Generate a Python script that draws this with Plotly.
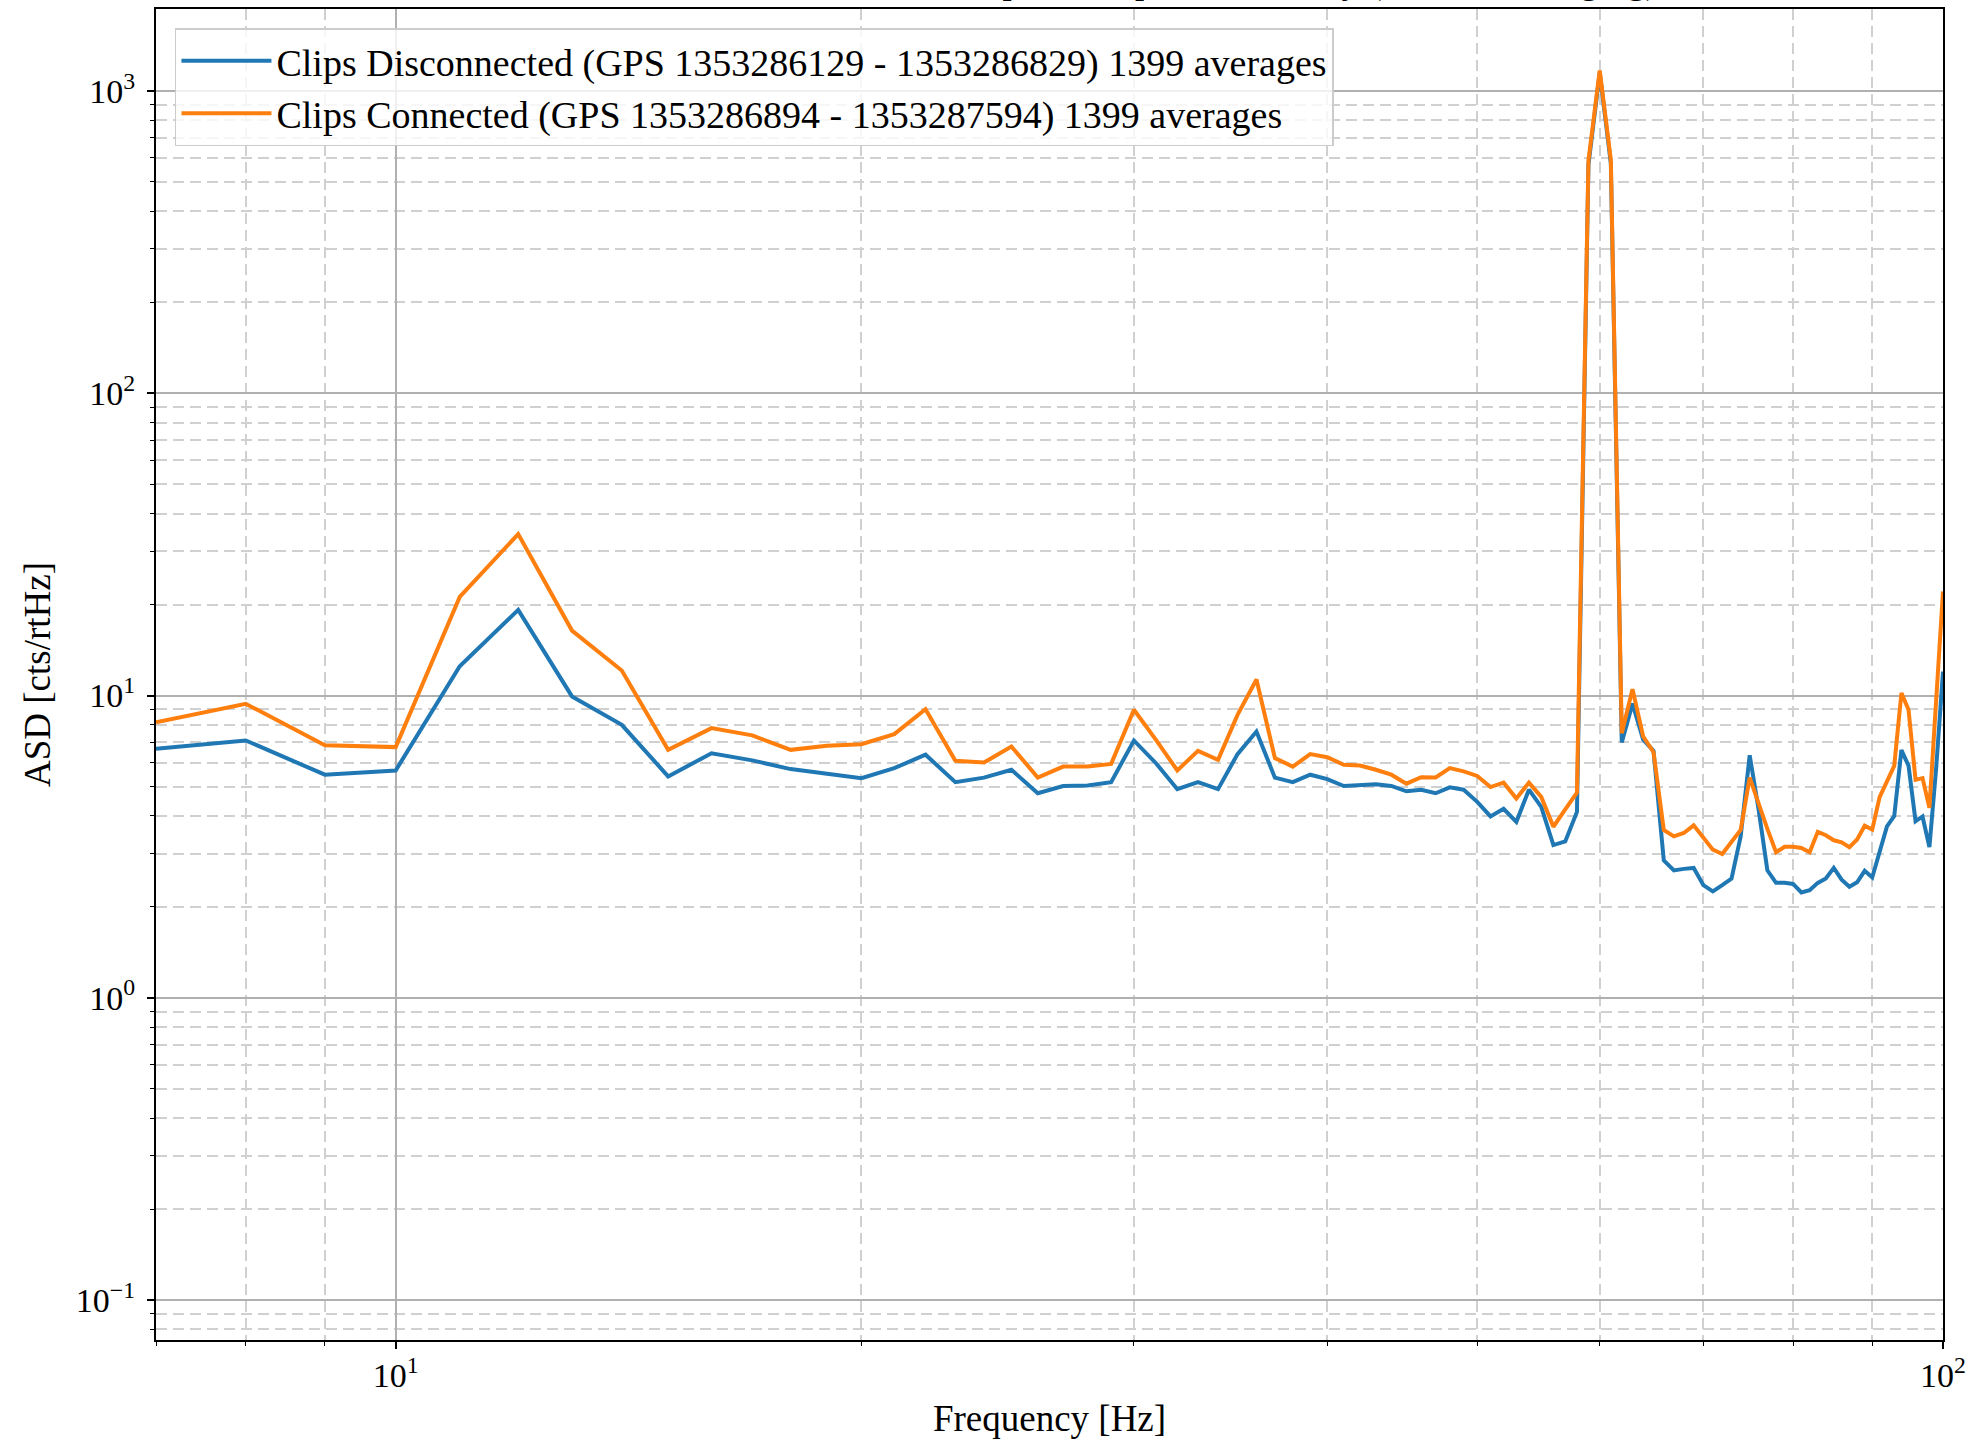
import math
import plotly.graph_objects as go

# ---------------- data ----------------
freq_hz = list(range(7, 101))

asd_disconnected = [
    6.67, 7.10, 5.47, 5.65, 12.5, 19.2, 9.93, 8.00, 5.40, 6.44,   # 7-16
    6.10, 5.71, 5.51, 5.33, 5.75, 6.37, 5.17, 5.35, 5.68, 4.75,   # 17-26
    5.02, 5.04, 5.17, 7.10, 5.97, 4.90, 5.17, 4.90, 6.40, 7.60,   # 27-36
    5.35, 5.17, 5.47, 5.29, 5.02, 5.07, 5.09, 5.02, 4.82, 4.88,   # 37-46
    4.75, 4.97, 4.88, 4.45, 3.98, 4.22, 3.82, 4.88, 4.28, 3.20,   # 47-56
    3.29, 4.12, 570.0, 1150.0, 575.0, 7.00, 9.40, 7.16, 6.56, 2.85,  # 57-66
    2.64, 2.67, 2.69, 2.36, 2.25, 2.36, 2.48, 3.42, 6.34, 4.20,   # 67-76
    2.64, 2.40, 2.40, 2.38, 2.23, 2.27, 2.40, 2.48, 2.69, 2.46,   # 77-86
    2.33, 2.41, 2.63, 2.50, 3.05, 3.69, 3.99, 6.60, 5.86, 3.84,   # 87-96
    3.98, 3.15, 5.80, 12.0,                                       # 97-100
]

asd_connected = [
    8.16, 9.39, 6.85, 6.75, 21.2, 34.2, 16.4, 12.1, 6.61, 7.80,   # 7-16
    7.38, 6.61, 6.82, 6.90, 7.45, 9.01, 6.08, 6.00, 6.78, 5.35,   # 17-26
    5.82, 5.82, 5.94, 8.97, 7.13, 5.65, 6.56, 6.13, 8.63, 11.3,   # 27-36
    6.21, 5.82, 6.40, 6.25, 5.90, 5.87, 5.68, 5.47, 5.11, 5.37,   # 37-46
    5.36, 5.75, 5.61, 5.42, 4.98, 5.15, 4.56, 5.15, 4.62, 3.68,   # 47-56
    4.20, 4.77, 588.0, 1168.0, 591.0, 7.50, 10.5, 7.33, 6.49, 3.59,  # 57-66
    3.42, 3.51, 3.72, 3.37, 3.09, 2.99, 3.26, 3.59, 5.35, 4.36,   # 67-76
    3.62, 3.03, 3.16, 3.16, 3.13, 3.03, 3.54, 3.45, 3.32, 3.27,   # 77-86
    3.15, 3.34, 3.71, 3.60, 4.61, 5.20, 5.85, 10.2, 8.97, 5.26,   # 87-96
    5.33, 4.25, 9.70, 22.1,                                       # 97-100
]

series_names = [
    "Clips Disconnected (GPS 1353286129 - 1353286829) 1399 averages",
    "Clips Connected (GPS 1353286894 - 1353287594) 1399 averages",
]

x_tick_values = [10, 100]
x_tick_labels = ["10<sup>1</sup>", "10<sup>2</sup>"]
y_tick_values = [0.1, 1, 10, 100, 1000]
y_tick_labels = ["10<sup>\u22121</sup>", "10<sup>0</sup>", "10<sup>1</sup>",
                 "10<sup>2</sup>", "10<sup>3</sup>"]

x_title = "Frequency [Hz]"
y_title = "ASD [cts/rtHz]"
chart_title = "Amplitude Spectral Density (median averaging)"

# ---------------- style ----------------
FONT = "Liberation Serif"
BLUE = "#1f77b4"
ORANGE = "#ff7f0e"
MAJOR_GRID = "#b0b0b0"
MINOR_GRID = "#d0d0d0"

x_minor = [d * 10 ** e for e in range(0, 3) for d in range(2, 10)]
y_minor = [d * 10 ** e for e in range(-2, 4) for d in range(2, 10)]

fig = go.Figure()
fig.add_trace(go.Scatter(x=freq_hz, y=asd_disconnected, mode="lines",
                         name=series_names[0],
                         line=dict(color=BLUE, width=4)))
fig.add_trace(go.Scatter(x=freq_hz, y=asd_connected, mode="lines",
                         name=series_names[1],
                         line=dict(color=ORANGE, width=4)))

axis_common = dict(
    type="log",
    showline=True, linecolor="black", linewidth=2, mirror=True,
    ticks="outside", ticklen=7, tickwidth=1.5, tickcolor="black",
    showgrid=True, gridcolor=MAJOR_GRID, gridwidth=1.6,
    zeroline=False,
    tickfont=dict(family=FONT, size=34, color="black"),
    automargin=False,
)

fig.update_xaxes(
    **axis_common,
    range=[math.log10(7), 2],
    tickmode="array", tickvals=x_tick_values, ticktext=x_tick_labels,
    ticklabelstandoff=-3,
    minor=dict(tickmode="array", tickvals=x_minor, ticks="outside", ticklen=4,
               tickwidth=1, tickcolor="black", showgrid=True,
               gridcolor=MINOR_GRID, gridwidth=1.5, griddash="11px,6px"),
    title=dict(text=x_title, font=dict(family=FONT, size=37, color="black"),
               standoff=12),
)
fig.update_yaxes(
    **axis_common,
    range=[-1.132, 3.271],
    tickmode="array", tickvals=y_tick_values, ticktext=y_tick_labels,
    ticklabelstandoff=5,
    minor=dict(tickmode="array", tickvals=y_minor, ticks="outside", ticklen=4,
               tickwidth=1, tickcolor="black", showgrid=True,
               gridcolor=MINOR_GRID, gridwidth=1.5, griddash="11px,6px"),
    title=dict(text=y_title, font=dict(family=FONT, size=37, color="black"),
               standoff=14),
)

fig.update_layout(
    width=1984, height=1440,
    margin=dict(l=156, r=41, t=9, b=100, pad=0),
    paper_bgcolor="white", plot_bgcolor="white",
    font=dict(family=FONT, size=34, color="black"),
    showlegend=True,
    legend=dict(x=0.0106, y=0.9857, xanchor="left", yanchor="top",
                bgcolor="rgba(255,255,255,0.8)", bordercolor="#cccccc",
                borderwidth=1.5, font=dict(family=FONT, size=38, color="black"),
                itemwidth=90, tracegroupgap=0),
    annotations=[dict(text=chart_title, xref="paper", yref="paper",
                      x=0.8416, y=1.0, xanchor="right", yanchor="bottom",
                      yshift=5, showarrow=False,
                      font=dict(family=FONT, size=37, color="black"))],
)

fig.write_html("out.html",
               config={"displayModeBar": False},
               post_script="document.body.style.margin='0px';"
                           "document.body.style.overflow='hidden';")
